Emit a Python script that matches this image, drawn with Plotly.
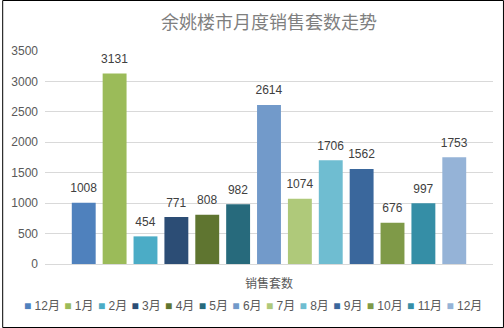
import plotly.graph_objects as go

title = "余姚楼市月度销售套数走势"
category = ["销售套数"]
months = ["12月", "1月", "2月", "3月", "4月", "5月", "6月", "7月", "8月", "9月", "10月", "11月", "12月"]
values = [1008, 3131, 454, 771, 808, 982, 2614, 1074, 1706, 1562, 676, 997, 1753]
colors = ["#4F81BD", "#9BBB59", "#4BACC6", "#2C4D75", "#5F7530", "#276A7C",
          "#729ACA", "#AFC97A", "#6FBDD1", "#3A679C", "#7F9A48", "#358EA6", "#95B3D7"]
y_ticks = [0, 500, 1000, 1500, 2000, 2500, 3000, 3500]

W, H = 504, 328
ML, MR, MT, MB = 43, 11, 51, 64
PW, PH = W - ML - MR, H - MT - MB

FONT = "Liberation Sans, Noto Sans CJK SC, sans-serif"

fig = go.Figure()
for m, v, c in zip(months, values, colors):
    fig.add_trace(go.Bar(
        x=category, y=[v], name=m, marker_color=c, marker_line_width=0,
        texttemplate="<span style='font-size:12px'>%{y}</span><br>&nbsp;",
        textposition="outside", cliponaxis=False,
        constraintext="none",
        textfont=dict(size=5, color="#404040", family=FONT),
        showlegend=False,
    ))

# manual single-row legend
parts = []
for m, c in zip(months, colors):
    parts.append(f'<span style="color:{c}">■</span> {m}')
legend_text = "&nbsp;&#8202;".join(parts)

def px_to_paper_x(px):
    return (px - ML) / PW

def px_to_paper_y(py):
    return (H - MB - py) / PH

fig.add_annotation(
    text=legend_text, xref="paper", yref="paper",
    x=px_to_paper_x(W / 2), y=px_to_paper_y(306), xanchor="center", yanchor="middle",
    showarrow=False, font=dict(size=12, color="#595959", family=FONT),
)

# outer border
fig.add_shape(type="rect", xref="paper", yref="paper",
              x0=px_to_paper_x(0.5), x1=px_to_paper_x(W - 0.5),
              y0=px_to_paper_y(H - 0.5), y1=px_to_paper_y(0.5),
              line=dict(color="#000000", width=1), layer="above")

fig.update_layout(
    width=W, height=H,
    margin=dict(l=ML, r=MR, t=MT, b=MB),
    paper_bgcolor="white", plot_bgcolor="white",
    barmode="group", bargap=0.104, bargroupgap=0.226,
    uniformtext=dict(mode=False),
    title=dict(text=title, x=0.5, xref="paper", xanchor="center",
               y=1 - 23 / H, yanchor="middle",
               font=dict(size=18, color="#7F7F7F", family="Noto Sans CJK SC")),
    xaxis=dict(showgrid=False, showline=True, linecolor="#D9D9D9", linewidth=1,
               tickfont=dict(size=12, color="#595959", family=FONT),
               ticks="", ticklabelstandoff=9),
    yaxis=dict(range=[0, 3500], tickvals=y_ticks, showgrid=True, gridcolor="#D9D9D9",
               gridwidth=1, zeroline=False, showline=False,
               tickfont=dict(size=12, color="#595959", family=FONT),
               ticks="", ticklabelstandoff=6),
    font=dict(family=FONT),
)

fig.write_html("out.html")
